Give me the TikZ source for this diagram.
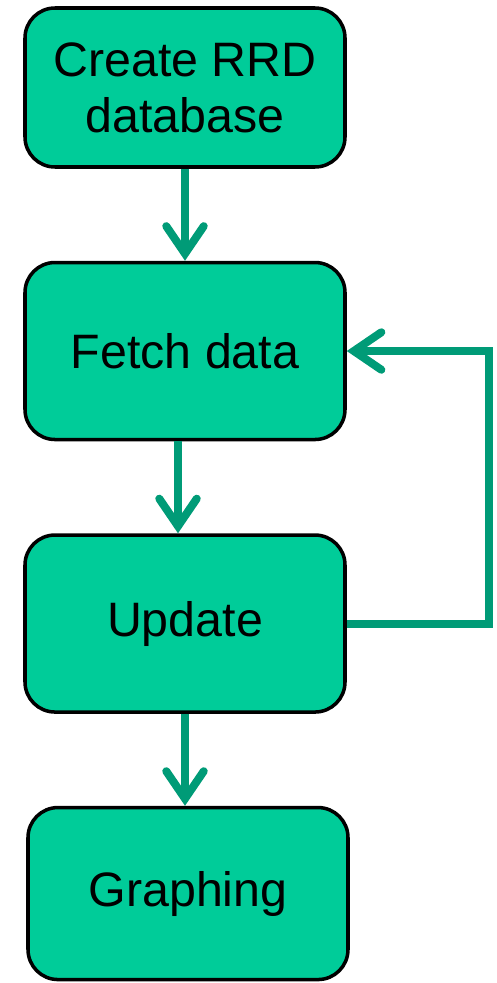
\documentclass[tikz,border=0pt]{standalone}
\usepackage{fontspec}
\setmainfont{Liberation Sans}
\usepackage{xcolor}
\usepackage{tikz}
\usetikzlibrary{arrows.meta,positioning}

\definecolor{boxgreen}{HTML}{00CC99}
\definecolor{arrgreen}{HTML}{009B77}

\begin{document}
\begin{tikzpicture}[
  stage/.style={draw, line width=2pt, rounded corners=0.6cm, fill=boxgreen,
                minimum width=6.4cm, minimum height=#1, align=center,
                font=\fontsize{27.5}{32}\selectfont},
  arr/.style={-{Straight Barb[length=0.55cm, width=0.75cm, line cap=round]},
              line width=0.16cm, arrgreen},
  node distance=1.84cm
]
  \useasboundingbox (0,0) rectangle (9.92,-19.66);

  \node[stage=3.18cm] (create) at (3.7,-1.75) {Create RRD\\database};
  \node[stage=3.54cm, below=of create] (fetch) {Fetch data};
  \node[stage=3.54cm, below=of fetch] (update) {Update};
  \node[stage=3.44cm, below=of update, xshift=0.06cm] (graph) {Graphing};

  % Main flow
  \draw[arr] (create.south) -- (fetch.north);
  \draw[arr] ([xshift=-0.14cm]fetch.south) -- ([xshift=-0.14cm]update.north);
  \draw[arr] (update.south) -- ([xshift=-0.06cm]graph.north);

  % Loop back for the next fetch
  \draw[arr] (update.east) -- ++(2.84cm,0) |- (fetch.east);
\end{tikzpicture}
\end{document}
